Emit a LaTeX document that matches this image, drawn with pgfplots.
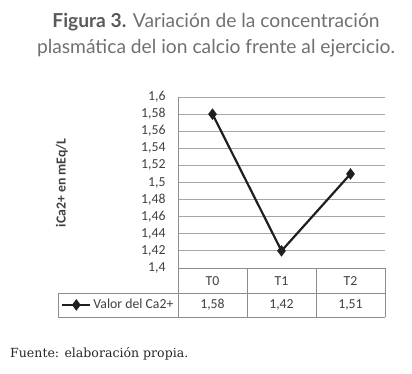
\documentclass[border=0pt]{standalone}
\usepackage{pgfplots}
\pgfplotsset{compat=1.18}
\usepackage{fontspec}
\setmainfont{Carlito}
\newfontfamily\titlefont{Lato}
\newfontfamily\footfont{DejaVu Serif}
\definecolor{titlegray}{HTML}{707070}
\definecolor{titledark}{HTML}{5A5A5A}
\definecolor{gridgray}{HTML}{A6A6A6}
\definecolor{tabgray}{HTML}{8C8C8C}
\definecolor{txt}{HTML}{404040}
\begin{document}
\begin{tikzpicture}[x=1bp,y=1bp]
\useasboundingbox (0,0) rectangle (412,374);
% title
\node[text=titlegray, font=\titlefont\fontsize{19.3}{19.3}\selectfont] at (216,352) {{\bfseries\color{titledark}Figura 3.} Variación de la concentración};
\node[text=titlegray, font=\titlefont\fontsize{19.3}{19.3}\selectfont] at (216,326) {plasmática del ion calcio frente al ejercicio.};
\begin{axis}[
  at={(178bp,106bp)}, anchor=south west,
  scale only axis, width=207bp, height=171bp,
  xmin=-0.5, xmax=2.5, ymin=1.4, ymax=1.6,
  xtick=\empty,
  ytick={1.4,1.42,1.44,1.46,1.48,1.5,1.52,1.54,1.56,1.58,1.6},
  axis line style={draw=none},
  ymajorgrids, grid style={gridgray, line width=0.9bp},
  major tick length=0pt,
  yticklabel style={font=\fontsize{13.8}{13.8}\selectfont, text=txt, xshift=-9bp},
  /pgf/number format/.cd, use comma, assume math mode=true,
  /pgfplots/.cd,
  clip=false,
  legend style={draw=none, fill=none, at={(axis description cs:-0.565,-0.216)}, anchor=west,
    font=\fontsize{13.8}{13.8}\selectfont, text=txt, inner sep=0pt, legend cell align=left},
  legend image code/.code={\draw[mark repeat=2,mark phase=2,#1] plot coordinates {(0bp,0bp)(14bp,0bp)(28bp,0bp)};},
]
\addplot[black!88, line width=2.2bp, mark=diamond*, mark size=4bp] coordinates {(0,1.58)(1,1.42)(2,1.51)};
\addlegendentry{Valor del Ca2+}
\end{axis}
% y label
\node[rotate=90, font=\bfseries\fontsize{13.8}{13.8}\selectfont, text=txt] at (62,191) {iCa2+ en mEq/L};
% data table
\begin{scope}[tabgray, line width=0.8bp]
\draw (178,277) -- (178,57);
\draw (178,106) -- (385,106);
\draw (58,81) -- (385,81);
\draw (58,57) -- (385,57);
\draw (58,81) -- (58,57);
\draw (247,106) -- (247,57);
\draw (316,106) -- (316,57);
\draw (385,106) -- (385,57);
\end{scope}
\begin{scope}[every node/.style={font=\fontsize{13.8}{13.8}\selectfont, text=txt}]
\node at (212.5,93) {T0};
\node at (281.5,93) {T1};
\node at (350.5,93) {T2};
\node at (212.5,69) {1,58};
\node at (281.5,69) {1,42};
\node at (350.5,69) {1,51};
\end{scope}
% footer
\node[anchor=west, font=\footfont\fontsize{12.6}{12.6}\selectfont, text=black!85, inner sep=0pt] at (10,20) {Fuente: elaboración propia.};
\end{tikzpicture}
\end{document}
